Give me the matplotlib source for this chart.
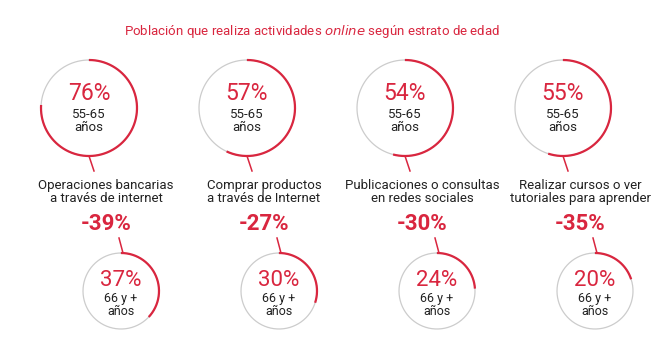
import numpy as np
import matplotlib.pyplot as plt

# data
actividades = ['Operaciones bancarias\na través de internet',
               'Comprar productos\na través de Internet',
               'Publicaciones o consultas\nen redes sociales',
               'Realizar cursos o ver\ntutoriales para aprender']
pct_55_65 = [76, 57, 54, 55]
pct_66 = [37, 30, 24, 20]
diferencia = [-39, -27, -30, -35]

RED = '#d9263f'
GRAY = '#cccccc'
TXT = '#222222'
FONT = ['Roboto', 'DejaVu Sans']


def ring(ax, cx, cy, r, pct, lw):
    t = np.linspace(0, 2 * np.pi, 300)
    ax.plot(cx + r * np.sin(t), cy - r * np.cos(t), color=GRAY, lw=0.9, zorder=1)
    t = np.linspace(0, 2 * np.pi * pct / 100, 300)
    ax.plot(cx + r * np.sin(t), cy - r * np.cos(t), color=RED, lw=lw,
            solid_capstyle='butt', zorder=2)


def main():
    plt.rcParams['font.family'] = FONT
    fig = plt.figure(figsize=(6.64, 3.63), dpi=100)
    ax = fig.add_axes([0, 0, 1, 1])
    ax.set_xlim(0, 664)
    ax.set_ylim(363, 0)
    ax.axis('off')

    ax.text(312, 31, 'Población que realiza actividades $\\it{online}$ según estrato de edad',
            color=RED, fontsize=9.5, ha='center', va='center')

    for i in range(len(actividades)):
        cx = 89 + 158 * i
        cy, r = 108, 48
        sx, sy, sr = cx + 32, 291, 38
        lx = cx + 17

        ring(ax, cx, cy, r, pct_55_65[i], 1.6)
        ax.text(cx, cy - 14, f'{pct_55_65[i]}%', color=RED, fontsize=16.5,
                ha='center', va='center')
        ax.text(cx, cy + 13, '55-65\naños', color=TXT, fontsize=9.5,
                ha='center', va='center', linespacing=0.95)
        ax.plot([cx, cx + 5], [cy + r, 171], color=RED, lw=1.1)

        ax.text(lx, 192, actividades[i], color=TXT, fontsize=9.5,
                ha='center', va='center', linespacing=1.05)
        ax.text(lx, 224, f'-{abs(diferencia[i])}%', color=RED, fontsize=16,
                fontweight='bold', ha='center', va='center')
        ax.plot([sx - 2, sx + 2], [238, sy - sr], color=RED, lw=1.1)

        ring(ax, sx, sy, sr, pct_66[i], 1.6)
        ax.text(sx, sy - 10, f'{pct_66[i]}%', color=RED, fontsize=16,
                ha='center', va='center')
        ax.text(sx, sy + 14, '66 y +\naños', color=TXT, fontsize=9,
                ha='center', va='center', linespacing=0.95)

    fig.savefig('out.png', dpi=100)


if __name__ == '__main__':
    main()
